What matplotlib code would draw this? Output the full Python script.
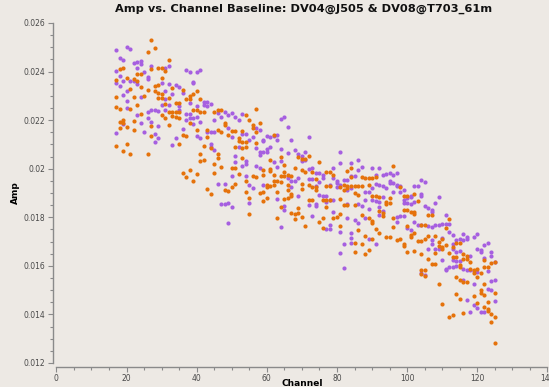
import matplotlib
matplotlib.use("Agg")
import matplotlib.pyplot as plt
from matplotlib.ticker import MultipleLocator, FuncFormatter

# Correlation 1 (purple): channel and amplitude
purple_channel = [
    17, 20, 21, 18, 19, 22, 23, 24, 24, 23, 27, 31, 32, 17, 25, 18, 26, 26, 19, 22,
    21, 17, 30, 32, 18, 23, 20, 31, 19, 24, 31, 20, 30, 32, 20, 27, 28, 26, 23, 29,
    31, 26, 27, 24, 19, 29, 17, 25, 28, 29, 28,
    37, 38, 40, 41, 39, 39, 34, 35, 36, 33, 38, 42, 43, 42, 44, 43, 35, 40, 35, 37,
    38, 46, 37, 38, 39, 40, 47, 45, 39, 41, 36, 43, 44, 45, 34, 40, 41, 33, 44, 44,
    45, 46, 47,
    48, 49, 50, 53, 51, 52, 49, 57, 58, 54, 53, 50, 55, 52, 56, 57, 58, 58, 59, 59,
    60, 61, 62, 63, 63, 60, 60, 59, 61, 62, 63, 51, 51, 53, 54, 54, 57, 58, 50, 54,
    55, 56, 59, 48, 63, 55, 48, 50, 49, 49,
    65, 64, 66, 67, 72, 64, 66, 68, 69, 70, 71, 70, 71, 64, 72, 73, 74, 75, 76, 76,
    79, 66, 67, 68, 69, 72, 73, 75, 79, 67, 74, 78, 69, 75, 76, 77, 77, 78, 79, 72,
    74, 74, 65, 65, 73, 79, 78, 77, 78, 64,
    81, 81, 84, 86, 87, 86, 90, 92, 80, 80, 82, 83, 84, 85, 91, 93, 94, 81, 80, 83,
    84, 90, 91, 92, 94, 93, 88, 89, 93, 92, 91, 90, 88, 83, 86, 87, 89, 92, 92, 93,
    83, 88, 85, 86, 81, 84, 89, 91, 84, 84, 82, 81, 82,
    95, 96, 97, 95, 95, 96, 97, 97, 98, 98, 99, 96, 104, 105, 102, 103, 104, 104, 101, 100,
    101, 99, 100, 101, 102, 99, 105, 106, 107, 107, 108, 109, 98, 99, 97, 111, 97, 102, 103, 104,
    106, 107, 108, 109, 110, 111, 100, 101, 107, 107, 110, 108, 109, 106, 110, 111, 111, 104, 105,
    112, 112, 113, 116, 117, 120, 119, 114, 115, 116, 117, 113, 113, 115, 114, 120, 121, 121, 122, 123,
    118, 113, 114, 115, 124, 124, 122, 125, 112, 113, 114, 116, 117, 118, 119, 120, 123, 116, 119, 124,
    125, 123, 124, 117, 125, 119, 120, 121, 122, 118,
]
purple_amp = [
    0.02490, 0.02502, 0.02495, 0.02457, 0.02447, 0.02437, 0.02438, 0.02442, 0.02432, 0.02415,
    0.02421, 0.02415, 0.02421, 0.02404, 0.02400, 0.02382, 0.02379, 0.02369, 0.02363, 0.02363,
    0.02360, 0.02351, 0.02352, 0.02350, 0.02339, 0.02348, 0.02322, 0.02322, 0.02305, 0.02296,
    0.02289, 0.02280, 0.02264, 0.02264, 0.02250, 0.02240, 0.02241, 0.02234, 0.02223, 0.02238,
    0.02240, 0.02209, 0.02192, 0.02188, 0.02184, 0.02177, 0.02149, 0.02150, 0.02143, 0.02127,
    0.02110,
    0.02408, 0.02399, 0.02399, 0.02407, 0.02359, 0.02351, 0.02344, 0.02337, 0.02311, 0.02307,
    0.02271, 0.02274, 0.02274, 0.02263, 0.02265, 0.02257, 0.02257, 0.02257, 0.02243, 0.02226,
    0.02227, 0.02230, 0.02202, 0.02210, 0.02210, 0.02213, 0.02213, 0.02202, 0.02183, 0.02191,
    0.02164, 0.02153, 0.02150, 0.02153, 0.02127, 0.02133, 0.02128, 0.02098, 0.02103, 0.02089,
    0.02076, 0.01939, 0.01854,
    0.02232, 0.02223, 0.02228, 0.02224, 0.02213, 0.02199, 0.02169, 0.02169, 0.02161, 0.02144,
    0.02143, 0.02132, 0.02117, 0.02090, 0.02131, 0.02084, 0.02070, 0.02055, 0.02120, 0.02114,
    0.02136, 0.02129, 0.02133, 0.02140, 0.02117, 0.02081, 0.02070, 0.02070, 0.02090, 0.02029,
    0.02007, 0.02054, 0.02029, 0.02010, 0.02030, 0.02021, 0.02010, 0.02001, 0.01971, 0.01971,
    0.01933, 0.01919, 0.01933, 0.01937, 0.01875, 0.01859, 0.01856, 0.01842, 0.01859, 0.01776,
    0.02213, 0.02205, 0.02170, 0.02118, 0.02129, 0.02081, 0.02066, 0.02078, 0.02061, 0.02051,
    0.02069, 0.02030, 0.02034, 0.02030, 0.02000, 0.02002, 0.01982, 0.01982, 0.01974, 0.01960,
    0.02002, 0.01960, 0.01948, 0.01950, 0.01960, 0.01959, 0.01959, 0.01946, 0.01960, 0.01925,
    0.01930, 0.01933, 0.01886, 0.01892, 0.01886, 0.01889, 0.01861, 0.01872, 0.01872, 0.01850,
    0.01855, 0.01845, 0.01847, 0.01831, 0.01806, 0.01820, 0.01769, 0.01750, 0.01750, 0.01762,
    0.02067, 0.02023, 0.02023, 0.02037, 0.02008, 0.01995, 0.02003, 0.02003, 0.01951, 0.01941,
    0.01953, 0.01953, 0.01972, 0.01972, 0.01975, 0.01975, 0.01979, 0.01934, 0.01923, 0.01913,
    0.01920, 0.01920, 0.01937, 0.01934, 0.01922, 0.01927, 0.01906, 0.01906, 0.01884, 0.01865,
    0.01868, 0.01872, 0.01872, 0.01854, 0.01854, 0.01846, 0.01835, 0.01843, 0.01810, 0.01827,
    0.01799, 0.01797, 0.01790, 0.01776, 0.01739, 0.01737, 0.01710, 0.01689, 0.01714, 0.01696,
    0.01691, 0.01652, 0.01590,
    0.01982, 0.01975, 0.01982, 0.01948, 0.01941, 0.01941, 0.01934, 0.01927, 0.01927, 0.01906,
    0.01913, 0.01904, 0.01955, 0.01946, 0.01927, 0.01930, 0.01897, 0.01886, 0.01889, 0.01878,
    0.01882, 0.01872, 0.01859, 0.01854, 0.01861, 0.01859, 0.01845, 0.01840, 0.01831, 0.01823,
    0.01859, 0.01883, 0.01806, 0.01806, 0.01803, 0.01810, 0.01779, 0.01779, 0.01770, 0.01768,
    0.01765, 0.01762, 0.01770, 0.01770, 0.01772, 0.01772, 0.01754, 0.01748, 0.01707, 0.01689,
    0.01715, 0.01671, 0.01669, 0.01669, 0.01625, 0.01589, 0.01584, 0.01569, 0.01563,
    0.01773, 0.01739, 0.01729, 0.01733, 0.01718, 0.01731, 0.01718, 0.01705, 0.01710, 0.01707,
    0.01710, 0.01691, 0.01669, 0.01662, 0.01659, 0.01669, 0.01666, 0.01658, 0.01685, 0.01694,
    0.01641, 0.01625, 0.01619, 0.01619, 0.01657, 0.01641, 0.01633, 0.01614, 0.01595, 0.01597,
    0.01600, 0.01589, 0.01584, 0.01584, 0.01578, 0.01575, 0.01578, 0.01542, 0.01526, 0.01537,
    0.01542, 0.01506, 0.01501, 0.01459, 0.01457, 0.01438, 0.01427, 0.01410, 0.01408, 0.01410,
]

# Correlation 2 (orange): channel and amplitude
orange_channel = [
    27, 28, 26, 32, 27, 29, 30, 31, 19, 18, 23, 24, 17, 20, 22, 23, 30, 28, 29, 21,
    24, 26, 28, 29, 30, 22, 25, 29, 30, 32, 17, 23, 31, 17, 18, 21, 24, 30, 32, 19,
    18, 19, 31, 22, 27, 32, 20, 18, 22, 27, 17, 20, 19, 21, 26,
    33, 36, 40, 39, 38, 37, 38, 41, 34, 35, 40, 39, 41, 42, 35, 34, 33, 45, 46, 47,
    34, 33, 35, 38, 40, 43, 46, 47, 36, 37, 43, 35, 44, 42, 41, 46, 46, 42, 41, 45,
    47, 38, 36, 40, 45, 37, 39, 43, 44,
    57, 54, 55, 48, 48, 56, 56, 58, 57, 50, 51, 53, 49, 52, 52, 53, 54, 51, 53, 54,
    57, 62, 61, 53, 50, 51, 61, 61, 59, 56, 57, 59, 52, 62, 62, 63, 54, 51, 50, 48,
    49, 60, 60, 61, 62, 54, 58, 59, 63, 60, 59, 55, 55, 63,
    64, 69, 70, 71, 72, 65, 68, 75, 65, 70, 71, 73, 77, 78, 79, 64, 65, 66, 67, 74,
    64, 66, 70, 70, 72, 73, 74, 74, 77, 78, 66, 65, 66, 67, 67, 72, 73, 76, 77, 78,
    77, 64, 69, 67, 68, 69, 70, 68, 76, 79, 75, 76, 71,
    84, 83, 84, 87, 88, 89, 90, 91, 81, 82, 83, 84, 85, 86, 87, 82, 83, 89, 85, 86,
    90, 91, 92, 94, 94, 81, 82, 83, 85, 92, 93, 93, 81, 80, 87, 89, 90, 90, 81, 91,
    92, 86, 88, 90, 94, 85, 87, 89, 85, 88,
    96, 98, 102, 100, 99, 95, 95, 103, 106, 107, 99, 100, 101, 102, 102, 96, 96, 104, 105, 111,
    100, 102, 95, 97, 98, 99, 99, 101, 101, 103, 104, 105, 106, 108, 109, 110, 111, 109, 110, 110,
    108, 100, 102, 104, 106, 107, 108, 104, 105, 104, 105, 109, 110,
    112, 112, 115, 114, 113, 116, 117, 116, 117, 118, 113, 114, 122, 124, 125, 123, 122, 115, 115, 118,
    119, 120, 119, 121, 120, 114, 115, 116, 117, 122, 125, 121, 121, 122, 114, 119, 115, 123, 120, 122,
    123, 123, 112, 113, 116, 124, 125, 124, 125,
]
orange_amp = [
    0.02531, 0.02498, 0.02481, 0.02448, 0.02410, 0.02414, 0.02414, 0.02401, 0.02413, 0.02410,
    0.02390, 0.02390, 0.02367, 0.02374, 0.02371, 0.02360, 0.02374, 0.02340, 0.02344, 0.02330,
    0.02338, 0.02323, 0.02318, 0.02312, 0.02309, 0.02297, 0.02301, 0.02292, 0.02292, 0.02292,
    0.02294, 0.02263, 0.02267, 0.02254, 0.02247, 0.02245, 0.02227, 0.02220, 0.02234, 0.02201,
    0.02191, 0.02188, 0.02209, 0.02195, 0.02177, 0.02179, 0.02170, 0.02166, 0.02158, 0.02135,
    0.02095, 0.02103, 0.02074, 0.02061, 0.02062,
    0.02331, 0.02326, 0.02318, 0.02308, 0.02298, 0.02287, 0.02287, 0.02287, 0.02271, 0.02271,
    0.02243, 0.02241, 0.02232, 0.02235, 0.02232, 0.02232, 0.02235, 0.02235, 0.02243, 0.02240,
    0.02213, 0.02219, 0.02209, 0.02188, 0.02161, 0.02161, 0.02161, 0.02153, 0.02139, 0.02136,
    0.02131, 0.02100, 0.02084, 0.02095, 0.02062, 0.02059, 0.02043, 0.02037, 0.02030, 0.02019,
    0.02007, 0.01996, 0.01982, 0.01978, 0.01981, 0.01967, 0.01951, 0.01916, 0.01894,
    0.02247, 0.02221, 0.02202, 0.02188, 0.02182, 0.02179, 0.02168, 0.02188, 0.02153, 0.02156,
    0.02156, 0.02157, 0.02137, 0.02126, 0.02113, 0.02110, 0.02109, 0.02090, 0.02087, 0.02090,
    0.02106, 0.02138, 0.02037, 0.02043, 0.02001, 0.02001, 0.01999, 0.01989, 0.01996, 0.01971,
    0.01966, 0.01974, 0.01978, 0.01975, 0.01949, 0.01949, 0.01949, 0.01938, 0.01925, 0.01913,
    0.01908, 0.01934, 0.01923, 0.01928, 0.01933, 0.01906, 0.01900, 0.01906, 0.01906, 0.01878,
    0.01869, 0.01878, 0.01812, 0.01798,
    0.02050, 0.02047, 0.02040, 0.02040, 0.02052, 0.02015, 0.02005, 0.02029, 0.01986, 0.01995,
    0.01988, 0.01988, 0.01988, 0.01988, 0.01976, 0.01968, 0.01968, 0.01975, 0.01968, 0.01959,
    0.01946, 0.01935, 0.01938, 0.01916, 0.01931, 0.01923, 0.01923, 0.01913, 0.01930, 0.01930,
    0.01913, 0.01876, 0.01878, 0.01886, 0.01897, 0.01872, 0.01872, 0.01872, 0.01872, 0.01872,
    0.01842, 0.01842, 0.01838, 0.01817, 0.01815, 0.01817, 0.01803, 0.01794, 0.01799, 0.01799,
    0.01779, 0.01757, 0.01765,
    0.02005, 0.01989, 0.01964, 0.01964, 0.01962, 0.01961, 0.01962, 0.01964, 0.01923, 0.01934,
    0.01927, 0.01927, 0.01927, 0.01930, 0.01930, 0.01913, 0.01920, 0.01931, 0.01898, 0.01893,
    0.01886, 0.01886, 0.01883, 0.01865, 0.01856, 0.01875, 0.01849, 0.01849, 0.01852, 0.01824,
    0.01816, 0.01805, 0.01814, 0.01802, 0.01809, 0.01799, 0.01786, 0.01775, 0.01766, 0.01750,
    0.01737, 0.01746, 0.01722, 0.01710, 0.01718, 0.01694, 0.01688, 0.01665, 0.01657, 0.01650,
    0.02012, 0.01925, 0.01896, 0.01886, 0.01886, 0.01879, 0.01859, 0.01869, 0.01809, 0.01809,
    0.01828, 0.01828, 0.01820, 0.01820, 0.01812, 0.01797, 0.01760, 0.01770, 0.01768, 0.01754,
    0.01765, 0.01737, 0.01718, 0.01707, 0.01710, 0.01691, 0.01682, 0.01728, 0.01718, 0.01704,
    0.01704, 0.01710, 0.01724, 0.01721, 0.01700, 0.01711, 0.01684, 0.01680, 0.01677, 0.01669,
    0.01655, 0.01658, 0.01663, 0.01647, 0.01628, 0.01608, 0.01608, 0.01581, 0.01581, 0.01567,
    0.01559, 0.01526, 0.01443,
    0.01794, 0.01652, 0.01694, 0.01696, 0.01676, 0.01650, 0.01630, 0.01630, 0.01639, 0.01614,
    0.01636, 0.01638, 0.01625, 0.01611, 0.01614, 0.01597, 0.01597, 0.01597, 0.01603, 0.01589,
    0.01584, 0.01589, 0.01572, 0.01572, 0.01553, 0.01556, 0.01542, 0.01534, 0.01534, 0.01526,
    0.01487, 0.01501, 0.01487, 0.01479, 0.01485, 0.01474, 0.01463, 0.01452, 0.01446, 0.01432,
    0.01421, 0.01416, 0.01391, 0.01398, 0.01407, 0.01402, 0.01391, 0.01369, 0.01281,
]

title_text = "Amp vs. Channel Baseline: DV04@J505 & DV08@T703_61m"
x_label = "Channel"
y_label = "Amp"

bg = "#ede9e4"
purple = "#a65fe0"
orange = "#e5720b"
axis_grey = "#8a8a8a"

fig = plt.figure(figsize=(5.49, 3.87), dpi=100, facecolor=bg)
ax = fig.add_axes([56.4 / 549, 24 / 387, 491 / 549, 340 / 387], facecolor=bg)

ax.scatter(purple_channel, purple_amp, s=9, marker="o", color=purple,
           linewidths=0, zorder=3)
ax.scatter(orange_channel, orange_amp, s=9, marker="o", color=orange,
           linewidths=0, zorder=3)

ax.set_xlim(0, 140)
ax.set_ylim(0.012, 0.026)

ax.xaxis.set_major_locator(MultipleLocator(20))
ax.xaxis.set_minor_locator(MultipleLocator(5))
ax.yaxis.set_major_locator(MultipleLocator(0.002))
ax.yaxis.set_minor_locator(MultipleLocator(0.0005))
ax.yaxis.set_major_formatter(FuncFormatter(lambda v, p: "%g" % round(v, 4)))

for side in ("top", "right"):
    ax.spines[side].set_visible(False)
ax.spines["left"].set_position(("outward", 2.2))
ax.spines["bottom"].set_position(("outward", 2.9))
for side in ("left", "bottom"):
    ax.spines[side].set_color(axis_grey)
    ax.spines[side].set_linewidth(1.0)

ax.tick_params(which="major", direction="out", length=3.6, width=0.8,
               color=axis_grey, labelsize=5.5, labelcolor="#4a4a4a", pad=2)
ax.tick_params(axis="x", which="major", pad=1.5)
ax.tick_params(which="minor", direction="out", length=2.0, width=0.8,
               color=axis_grey)

ax.set_title(title_text, fontsize=8.2, fontweight="bold", color="#111111",
             x=(304 - 56.4) / 491, pad=8)
ax.set_xlabel(x_label, fontsize=6.5, fontweight="bold")
ax.xaxis.set_label_coords(0.5, -0.046)
ax.set_ylabel(y_label, fontsize=6.5, fontweight="bold", labelpad=3)

fig.savefig("out.png", dpi=100, facecolor=bg)
